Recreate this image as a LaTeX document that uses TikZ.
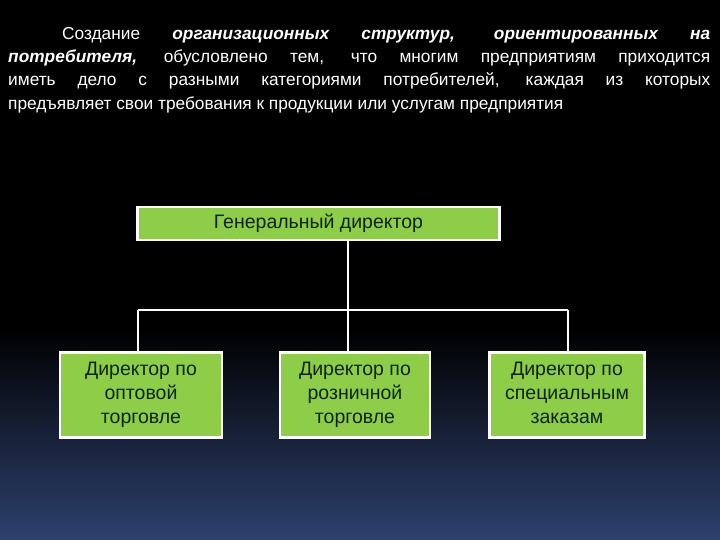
\documentclass[tikz,border=0pt]{standalone}
\usepackage{fontspec}
\setmainfont{Liberation Sans}
\definecolor{boxg}{RGB}{141,205,72}
\definecolor{bgblue}{RGB}{45,65,110}
\definecolor{txtd}{RGB}{15,35,15}
\tikzset{
 box/.style={draw=white,line width=2.2pt,fill=boxg,text=txtd,align=center,font=\fontsize{19.5}{24}\selectfont,inner sep=0pt},
 link/.style={draw=white,line width=2.2pt}
}
\begin{document}
\begin{tikzpicture}[x=1pt,y=-1pt]
\useasboundingbox (0,0) rectangle (720,540);
\fill[black] (0,0) rectangle (720,330);
\shade[top color=black,bottom color=bgblue] (0,329) rectangle (720,540);
\node[anchor=north west,text=white,text width=702pt,align=justify,inner sep=0pt,font=\fontsize{17.3}{23.3}\selectfont] (para) at (8,27)
{\hspace*{54pt}Создание \textbf{\textit{организационных структур, ориентированных на}}\linebreak \textbf{\textit{потребителя,}} обусловлено тем, что многим предприятиям приходится\linebreak иметь дело с разными категориями потребителей, каждая из которых\linebreak предъявляет свои требования к продукции или услугам предприятия};
\node[box,minimum width=362pt,minimum height=33pt] (gd) at (318.5,223.5) {Генеральный директор};
\node[box,minimum width=162pt,minimum height=85pt] (b1) at (141,395) {\strut Директор по\\\strut оптовой\\\strut торговле};
\node[box,minimum width=150pt,minimum height=85pt] (b2) at (355,395) {\strut Директор по\\\strut розничной\\\strut торговле};
\node[box,minimum width=155pt,minimum height=85pt] (b3) at (567,395) {\strut Директор по\\\strut специальным\\\strut заказам};
\coordinate (hub) at (348,310);
\coordinate (l) at (138,310);
\coordinate (r) at (568,310);
\draw[link] (gd.south -| hub) -- (hub);
\draw[link] (l) -- (r);
\draw[link] (l) -- (l |- b1.north);
\draw[link] (hub) -- (hub |- b2.north);
\draw[link] (r) -- (r |- b3.north);
\end{tikzpicture}
\end{document}
